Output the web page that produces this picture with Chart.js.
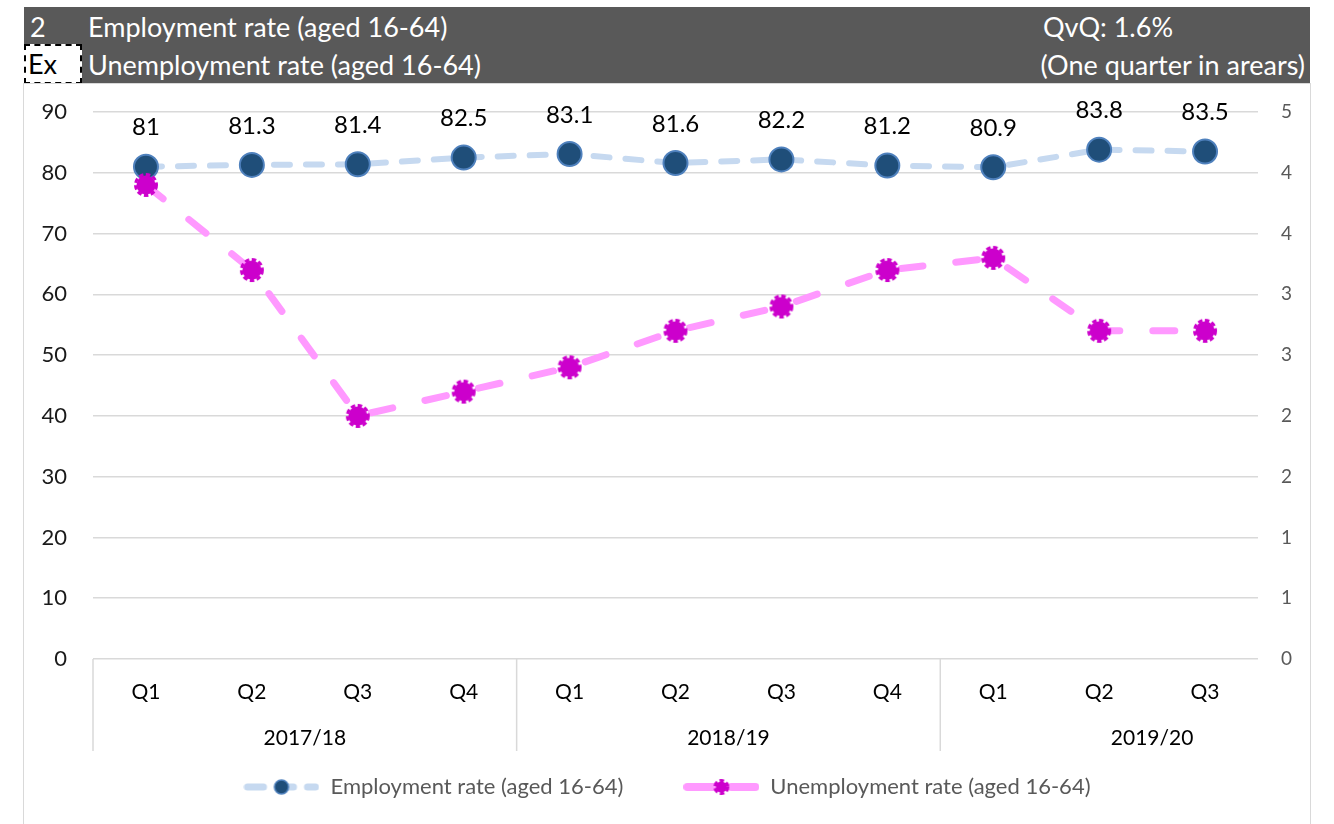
<!DOCTYPE html>
<html>
<head>
<meta charset="utf-8">
<script src="https://cdn.jsdelivr.net/npm/chart.js@4"></script>
<style>
  body { margin: 0; background: #fff; font-family: Lato, sans-serif; }
  #header { position: absolute; left: 24px; top: 7px; width: 1286px; height: 77px; background: #595959; color: #fff; font-size: 27px; line-height: 32px; }
  #header div { position: absolute; white-space: nowrap; }
  #exBox { position: absolute; left: 24px; top: 44px; width: 58px; height: 40px; box-sizing: border-box; background: #fff; border: 2px dashed #000; font-size: 27px; color: #000; padding-left: 2px; line-height: 36px; }
  #chartBox { position: absolute; left: 23px; top: 83px; width: 1288px; height: 742px; box-sizing: border-box; border: 1px solid #d9d9d9; }
</style>
</head>
<body>
<div id="header">
  <div style="left:6px; top:4px;">2</div>
  <div style="left:64px; top:4px;">Employment rate (aged 16-64)</div>
  <div style="left:1019px; top:4px;">QvQ: 1.6%</div>
  <div style="left:64px; top:42px;">Unemployment rate (aged 16-64)</div>
  <div style="right:5px; top:42px;">(One quarter in arears)</div>
</div>
<div id="exBox">Ex</div>
<div id="chartBox"><canvas id="chart"></canvas></div>

<script>
const quarters = ['Q1', 'Q2', 'Q3', 'Q4', 'Q1', 'Q2', 'Q3', 'Q4', 'Q1', 'Q2', 'Q3'];
const years = ['2017/18', '2018/19', '2019/20'];
const yearStart = [0, 4, 8];
const employment = [81, 81.3, 81.4, 82.5, 83.1, 81.6, 82.2, 81.2, 80.9, 83.8, 83.5];
const unemployment = [3.9, 3.2, 2.0, 2.2, 2.4, 2.7, 2.9, 3.2, 3.3, 2.7, 2.7];
const leftMax = 90, leftStep = 10;
const rightMax = 4.5, rightStep = 0.5;

const empLine = '#c6d9f0', empFill = '#1f4e79', empEdge = '#4f81bd';
const unLine = '#ff99ff', unFill = '#cc00cc';

// notched magenta marker (Excel style dashed edge)
function gearMarker(r) {
    const c = document.createElement('canvas');
    c.width = c.height = 2 * r + 8;
    const g = c.getContext('2d');
    const m = c.width / 2;
    g.fillStyle = unFill;
    g.beginPath(); g.arc(m, m, r - 0.5, 0, Math.PI * 2); g.fill();
    g.strokeStyle = unFill; g.lineWidth = 3; g.setLineDash([4.5, 2.5]);
    g.beginPath(); g.arc(m, m, r + 0.5, 0, Math.PI * 2); g.stroke();
    return c;
}

// legend swatch: dashed line with the marker in the middle
function legendSwatch(kind) {
    const w = 76, h = 24;
    const c = document.createElement('canvas');
    c.width = w; c.height = h;
    const g = c.getContext('2d');
    g.lineCap = 'round';
    if (kind === 'emp') {
        g.strokeStyle = empLine; g.lineWidth = 7; g.setLineDash([16, 14]);
        g.beginPath(); g.moveTo(4, 12); g.lineTo(72, 12); g.stroke();
        g.setLineDash([]);
        g.fillStyle = empFill; g.strokeStyle = empEdge; g.lineWidth = 1.5;
        g.beginPath(); g.arc(38, 12, 7, 0, Math.PI * 2); g.fill(); g.stroke();
    } else {
        g.strokeStyle = unLine; g.lineWidth = 8; g.setLineDash([28, 16]);
        g.beginPath(); g.moveTo(4, 12); g.lineTo(72, 12); g.stroke();
        g.drawImage(gearMarker(6), 38 - 10, 12 - 10);
    }
    return c;
}

const empSwatch = legendSwatch('emp');
const unSwatch = legendSwatch('un');

const groupPlugin = {
    id: 'groups',
    afterDraw(chart) {
        const x = chart.scales.x, ctx = chart.ctx;
        const top = chart.chartArea.bottom, bottom = top + 92;
        const half = (x.getPixelForValue(1) - x.getPixelForValue(0)) / 2;
        ctx.save();
        ctx.strokeStyle = '#d9d9d9'; ctx.lineWidth = 1.5;
        ctx.fillStyle = '#000'; ctx.font = '21px Lato';
        ctx.textAlign = 'center'; ctx.textBaseline = 'middle';
        yearStart.forEach((s, i) => {
            const px = x.getPixelForValue(s) - half;
            ctx.beginPath(); ctx.moveTo(px, top); ctx.lineTo(px, bottom); ctx.stroke();
            ctx.fillText(years[i], x.getPixelForValue(s + 1.5), top + 79);
        });
        ctx.restore();
    }
};

const labelPlugin = {
    id: 'pointLabels',
    afterDatasetsDraw(chart) {
        const ctx = chart.ctx;
        const pts = chart.getDatasetMeta(0).data;
        ctx.save();
        ctx.fillStyle = '#000'; ctx.font = '24px Lato';
        ctx.textAlign = 'center'; ctx.textBaseline = 'middle';
        pts.forEach((p, i) => ctx.fillText(String(employment[i]), p.x, p.y - 39));
        ctx.restore();
    }
};

new Chart(document.getElementById('chart'), {
    type: 'line',
    data: {
        labels: quarters,
        datasets: [{
            label: 'Employment rate (aged 16-64)',
            data: employment,
            yAxisID: 'y',
            order: 1,
            borderColor: empLine,
            borderWidth: 6,
            borderDash: [16, 16],
            borderCapStyle: 'round',
            pointRadius: 12,
            pointHoverRadius: 12,
            pointBackgroundColor: empFill,
            pointBorderColor: empEdge,
            pointBorderWidth: 2,
            tension: 0
        }, {
            label: 'Unemployment rate (aged 16-64)',
            data: unemployment,
            yAxisID: 'y1',
            order: 0,
            borderColor: unLine,
            borderWidth: 7,
            borderDash: [22, 33],
            borderCapStyle: 'round',
            pointStyle: gearMarker(10),
            pointBackgroundColor: unFill,
            tension: 0
        }]
    },
    options: {
        responsive: true,
        maintainAspectRatio: false,
        animation: false,
        layout: { padding: { top: 28, bottom: 16, left: 0, right: 0 } },
        plugins: {
            tooltip: { enabled: false },
            legend: {
                position: 'bottom',
                labels: {
                    usePointStyle: true,
                    pointStyleWidth: 76,
                    padding: 60,
                    color: '#595959',
                    font: { family: 'Lato', size: 22 },
                    sort: (a, b) => a.datasetIndex - b.datasetIndex,
                    generateLabels(chart) {
                        return chart.data.datasets.map((ds, i) => ({
                            text: ds.label,
                            datasetIndex: i,
                            pointStyle: i === 0 ? empSwatch : unSwatch,
                            fillStyle: 'transparent',
                            strokeStyle: 'transparent',
                            lineWidth: 0,
                            fontColor: '#595959',
                            hidden: false
                        }));
                    }
                }
            }
        },
        scales: {
            x: {
                offset: true,
                grid: { display: false, drawTicks: false },
                border: { display: false },
                ticks: { color: '#000', font: { family: 'Lato', size: 21 }, padding: 21, maxRotation: 0, autoSkip: false },
                afterFit(scale) { scale.height = 57; }
            },
            y: {
                position: 'left',
                min: 0, max: leftMax,
                // invisible tick marks keep the labels away from the plot
                grid: { color: '#d9d9d9', lineWidth: 1.5, drawTicks: true, tickLength: 26, tickColor: 'transparent' },
                border: { display: false },
                ticks: { stepSize: leftStep, color: '#1a1a1a', font: { family: 'Lato', size: 22 }, padding: 0 },
                afterFit(scale) { scale.width = 69; }
            },
            y1: {
                position: 'right',
                min: 0, max: rightMax,
                grid: { display: true, color: 'transparent', drawOnChartArea: false, drawTicks: true, tickLength: 23, tickColor: 'transparent' },
                border: { display: false },
                ticks: {
                    stepSize: rightStep, color: '#595959', font: { family: 'Lato', size: 19 }, padding: 0,
                    callback: v => Math.round(v)
                },
                afterFit(scale) { scale.width = 52; }
            }
        }
    },
    plugins: [groupPlugin, labelPlugin]
});
</script>
</body>
</html>
